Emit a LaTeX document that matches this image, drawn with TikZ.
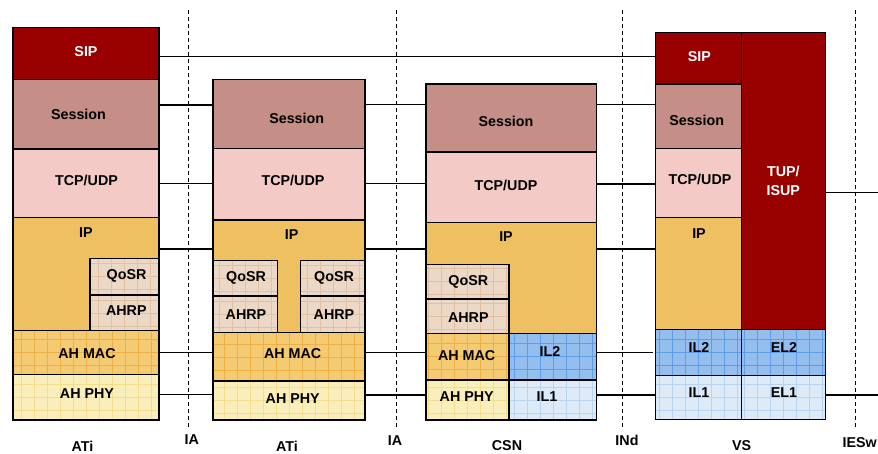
\documentclass[tikz,border=0pt]{standalone}
\usepackage{fontspec}
\setmainfont{Liberation Sans}
\usetikzlibrary{calc}

\definecolor{sipred}{HTML}{990000}
\definecolor{sessfill}{HTML}{C58F87}
\definecolor{tcpfill}{HTML}{F3CAC5}
\definecolor{ipfill}{HTML}{EEC062}
\definecolor{qosfill}{HTML}{ECD8C6}
\definecolor{qosline}{HTML}{E2C0A0}
\definecolor{macfill}{HTML}{F4CB72}
\definecolor{macline}{HTML}{ECB045}
\definecolor{phyfill}{HTML}{FAEEBB}
\definecolor{phyline}{HTML}{F4DE8E}
\definecolor{iltwofill}{HTML}{94BEEE}
\definecolor{iltwoline}{HTML}{5C9DE6}
\definecolor{ilonefill}{HTML}{DDEAF8}
\definecolor{iloneline}{HTML}{B8D4F2}

\tikzset{
  layer/.style={draw=black, line width=1.2pt, inner sep=0pt, outer sep=0pt},
  gridded/.style={path picture={
      \draw[#1, line width=0.45pt] (path picture bounding box.south west)
        grid[step=13pt] (path picture bounding box.north east);}},
  sipbox/.style={fill=sipred},
  sessbox/.style={fill=sessfill},
  tcpbox/.style={fill=tcpfill},
  ipbox/.style={fill=ipfill},
  qosbox/.style={fill=qosfill, gridded=qosline},
  macbox/.style={fill=macfill, gridded=macline},
  phybox/.style={fill=phyfill, gridded=phyline},
  iltwobox/.style={fill=iltwofill, gridded=iltwoline},
  ilonebox/.style={fill=ilonefill, gridded=iloneline},
  lbl/.style={font=\fontsize{14.3}{17}\selectfont\bfseries, inner sep=0pt, align=center},
  conn/.style={line width=1.5pt},
  border/.style={line width=0.9pt, dash pattern=on 4pt off 3pt},
}

% layer box: name, x1, y1, x2, y2, style, text, text x, text y
\newcommand\blk[9]{%
  \node[layer,#6,minimum width={(#4-#2)*1pt},minimum height={(#5-#3)*1pt}]
    (#1) at ({(#2+#4)/2},{(#3+#5)/2}) {};
  \node[lbl] (#1-t) at (#8,#9) {#7};}

\begin{document}
\begin{tikzpicture}[x=1pt,y=-1pt]
\useasboundingbox (0,0) rectangle (878,454);

% interface borders
\draw[border] (188,10) -- (188,427);
\draw[border] (396,10) -- (396,427);
\draw[border] (622.7,10) -- (622.7,427);
\draw[border] (855.7,10) -- (855.7,427);

% first access terminal
\blk{asip}{13}{27.3}{159}{79.3}{sipbox}{\textcolor{white}{SIP}}{86}{51.7}
\blk{asess}{13}{79.3}{159}{149}{sessbox}{Session}{78.5}{114}
\blk{atcp}{13}{149}{159}{217.3}{tcpbox}{TCP/UDP}{86.5}{180.7}
\blk{aip}{13}{217.3}{159}{330.7}{ipbox}{IP}{86}{232.7}
\blk{aqos}{90}{258.7}{159}{294.3}{qosbox}{QoSR}{126.5}{276}
\blk{aahrp}{90}{295.5}{159}{330.7}{qosbox}{AHRP}{126.3}{311}
\blk{amac}{13}{330.7}{159}{374.3}{macbox}{AH MAC}{87}{353.3}
\blk{aphy}{13}{374.3}{159}{420}{phybox}{AH PHY}{87}{393.3}

% second access terminal
\blk{bsess}{213}{79.3}{365}{148.3}{sessbox}{Session}{296.7}{118.3}
\blk{btcp}{213}{148.3}{365}{220}{tcpbox}{TCP/UDP}{293}{180}
\blk{bip}{213}{220}{365}{332.7}{ipbox}{IP}{291.7}{235}
\blk{bqosl}{213}{260.7}{277.3}{295.3}{qosbox}{QoSR}{246}{278.3}
\blk{bahrpl}{213}{296.5}{277.3}{332.7}{qosbox}{AHRP}{246}{314.3}
\blk{bqosr}{300.7}{260.7}{365}{295.3}{qosbox}{QoSR}{334}{278.3}
\blk{bahrpr}{300.7}{296.5}{365}{332.7}{qosbox}{AHRP}{334}{314.3}
\blk{bmac}{213}{332.7}{365}{381}{macbox}{AH MAC}{292.7}{354}
\blk{bphy}{213}{381}{365}{420}{phybox}{AH PHY}{292.7}{398.3}

% CSN
\blk{csess}{426}{84}{596.7}{152}{sessbox}{Session}{506}{121}
\blk{ctcp}{426}{152}{596.7}{222.3}{tcpbox}{TCP/UDP}{506}{185}
\blk{cip}{426}{222.3}{596.7}{333.3}{ipbox}{IP}{506}{236.7}
\blk{cqos}{426}{264.7}{509}{298.2}{qosbox}{QoSR}{468.3}{281.7}
\blk{cahrp}{426}{299.4}{509}{333.3}{qosbox}{AHRP}{468.3}{317.7}
\blk{cmac}{426}{333.3}{509}{380}{macbox}{AH MAC}{466.7}{355.7}
\blk{cil2}{509}{333.3}{596.7}{380}{iltwobox}{IL2}{550}{351.7}
\blk{cphy}{426}{380}{509}{420}{phybox}{AH PHY}{466.7}{396.7}
\blk{cil1}{509}{380}{596.7}{420}{ilonebox}{IL1}{547}{396.7}

% VS
\blk{dsip}{655.7}{32.3}{741.7}{84}{sipbox}{\textcolor{white}{SIP}}{699.3}{56.7}
\blk{dsess}{655.7}{84}{741.7}{148.7}{sessbox}{Session}{696.7}{120.7}
\blk{dtcp}{655.7}{148.7}{741.7}{217.3}{tcpbox}{TCP/UDP}{700}{179.3}
\blk{dip}{655.7}{217.3}{741.7}{329.3}{ipbox}{IP}{699}{233.3}
\blk{dtup}{741.7}{32.3}{825.7}{329.3}{sipbox}{\textcolor{white}{TUP/}\\[1.3pt]\textcolor{white}{ISUP}}{783.3}{181}
\blk{dil2}{655.7}{329.3}{741.7}{375.3}{iltwobox}{IL2}{699}{347.3}
\blk{del2}{741.7}{329.3}{825.7}{375.3}{iltwobox}{EL2}{784}{347.3}
\blk{dil1}{655.7}{375.3}{741.7}{419.3}{ilonebox}{IL1}{699}{392.7}
\blk{del1}{741.7}{375.3}{825.7}{419.3}{ilonebox}{EL1}{784}{392.7}

% peer connections
\draw[conn] (asip.east |- 0,56.7) -- (dsip.west |- 0,56.7);

\draw[conn] (asess.east |- 0,105) -- (bsess.west |- 0,105);
\draw[conn] (bsess.east |- 0,104.5) -- (csess.west |- 0,104.5);
\draw[conn] (csess.east |- 0,104.5) -- (dsess.west |- 0,104.5);

\draw[conn] (atcp.east |- 0,183.5) -- (btcp.west |- 0,183.5);
\draw[conn] (btcp.east |- 0,183.5) -- (ctcp.west |- 0,183.5);
\draw[conn] (ctcp.east |- 0,184) -- (dtcp.west |- 0,184);

\draw[conn] (aip.east |- 0,249) -- (bip.west |- 0,249);
\draw[conn] (bip.east |- 0,249) -- (cip.west |- 0,249);
\draw[conn] (cip.east |- 0,249) -- (dip.west |- 0,249);

\draw[conn] (amac.east |- 0,352.7) -- (bmac.west |- 0,352.7);
\draw[conn] (bmac.east |- 0,352.7) -- (cmac.west |- 0,352.7);
\draw[conn, shorten >=3pt] (cil2.east |- 0,352.7) -- (dil2.west |- 0,352.7);

\draw[conn] (aphy.east |- 0,394.5) -- (bphy.west |- 0,394.5);
\draw[conn] (bphy.east |- 0,395) -- (cphy.west |- 0,395);
\draw[conn] (cil1.east |- 0,395) -- (dil1.west |- 0,395);

\coordinate (tupend) at (878,192.7);
\coordinate (elend) at (878,395);
\draw[conn] (dtup.east |- tupend) -- (tupend);
\draw[conn] (del1.east |- elend) -- (elend);

% entity and interface names
\node[lbl] (n-ati1) at (82.5,446) {ATi};
\node[lbl] (n-ia1) at (191.7,440) {IA};
\node[lbl] (n-ati2) at (287,446) {ATi};
\node[lbl] (n-ia2) at (395,440.7) {IA};
\node[lbl] (n-csn) at (507,446) {CSN};
\node[lbl] (n-ind) at (627,440) {INd};
\node[lbl] (n-vs) at (741.7,446) {VS};
\node[lbl, anchor=east] (n-iesw) at (877,443) {IESw};
\end{tikzpicture}
\end{document}
